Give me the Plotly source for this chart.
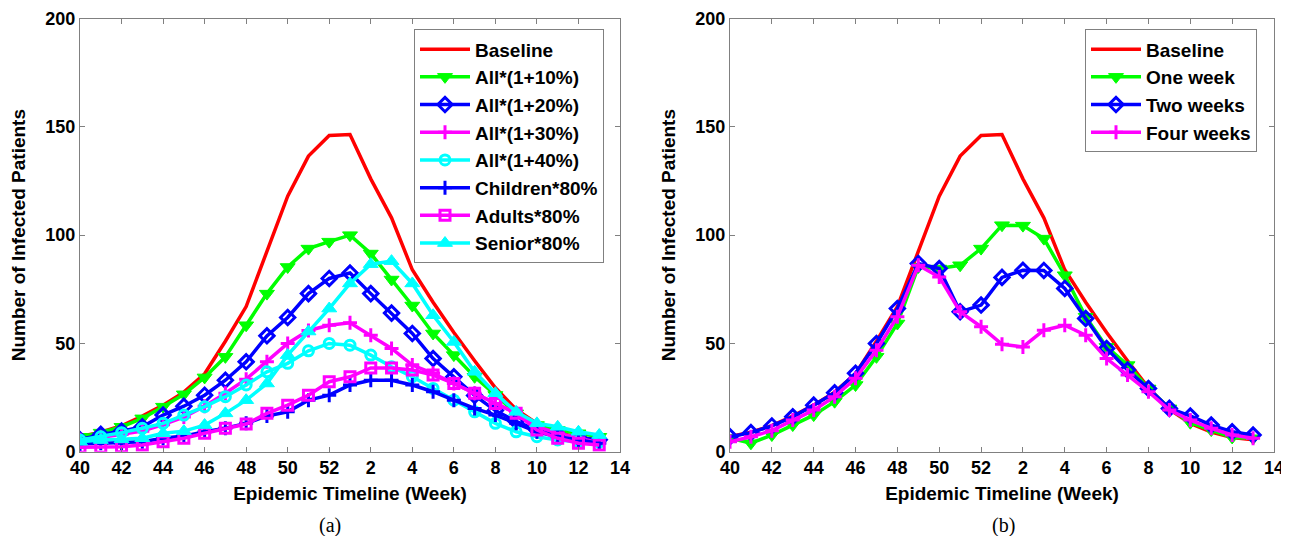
import plotly.graph_objects as go

# ---------------- data ----------------
weeks = [40, 41, 42, 43, 44, 45, 46, 47, 48, 49, 50, 51, 52,
         1, 2, 3, 4, 5, 6, 7, 8, 9, 10, 11, 12, 13]
axis_weeks = weeks + [14]

baseline = [7, 9, 12, 16.5, 21.5, 27.5, 36, 51, 67, 92, 118, 136.5, 146,
            146.5, 126, 108, 84, 69, 55, 42, 29.5, 19.5, 13, 9, 6.5, 5.5]
all_10 = [6.9, 8.8, 11.5, 15.4, 20.8, 26.5, 34.3, 43.8, 58.4, 73, 85.3, 93.8, 97,
          100, 91.5, 79.5, 67.5, 54.6, 44.6, 34.6, 26.2, 17.7, 12.3, 10, 8.5, 6.9]
all_20 = [5.5, 8, 9.5, 11.5, 16.9, 21, 26.1, 33, 41.5, 53.5, 62, 73, 80,
          82.5, 73, 64, 54.6, 43, 34.6, 26, 19, 14, 10, 8, 6.5, 5.5]
all_30 = [5.5, 6.5, 8, 9.5, 12.5, 16, 21, 27, 33.5, 41.5, 50, 56, 58.4,
          59.5, 53.8, 47.7, 40, 36.2, 31.5, 27, 22.3, 17.7, 11.5, 8.6, 6.3, 4]
all_40 = [5.4, 6.9, 8.8, 10.8, 13.1, 16.9, 20.8, 25.4, 30.8, 36.9, 40.8, 46.6, 50,
          49.2, 44.6, 39.2, 34.6, 29.2, 23.8, 18.4, 13.1, 9.2, 6.9, 5.4, 4.6, 4.4]
children_80 = [3.5, 3.9, 3.9, 4.6, 6.2, 7.2, 9.2, 10.8, 13.1, 16.5, 18.4, 23.8, 26.1,
               30.8, 33, 33, 30.8, 27.7, 23.8, 20, 16.9, 13.1, 9.2, 6.9, 5.4, 3.9]
adults_80 = [2, 2, 2.3, 3.1, 4.6, 6.2, 8.5, 10.8, 12.8, 17.7, 21.5, 26.1, 32.3,
             34.6, 38.7, 38.7, 37.7, 35.4, 31.5, 27, 22.3, 17.8, 10, 6.2, 3.9, 3.1]
senior_80 = [4.6, 5.4, 5.7, 6.2, 8.5, 9.5, 12.3, 17.7, 23.8, 31.5, 44.6, 55.5, 66.1,
             77.7, 86.6, 88, 77.7, 63, 50.7, 36.9, 27, 18.4, 13.1, 11.5, 9.2, 7.7]

one_week = [6.2, 3.9, 7.7, 12.3, 16.9, 23.1, 30.8, 43.8, 59.2, 85.3, 84.6, 86.1, 93.8,
            104.6, 104.4, 98.4, 81.5, 62.3, 48.4, 40, 29.2, 20, 13.4, 10, 6.6, 6.2]
two_weeks = [6.9, 8.8, 11.9, 16.1, 21.5, 27.2, 36.2, 50, 66.1, 86.9, 84.6, 64.6, 67.7,
             80.5, 83.8, 83.7, 75.4, 61.5, 47.7, 37.7, 29.2, 20, 16.5, 12.3, 9.2, 7.7]
four_weeks = [4.6, 6.9, 9.7, 14.6, 19.2, 25.4, 33.9, 46.9, 62.3, 86.1, 80.7, 64.6, 57.7,
              49.6, 48.4, 56.1, 58.4, 53.8, 43, 35.4, 27.7, 19.2, 14.6, 10.8, 7.7, 6.2]

y_ticks = [0, 50, 100, 150, 200]

RED, GREEN, BLUE, MAG, CYAN = "#FF0000", "#00FF00", "#0000FF", "#FF00FF", "#00FFFF"

x_pos = list(range(len(weeks)))
tick_pos = list(range(0, len(axis_weeks), 2))
tick_txt = [str(axis_weeks[i]) for i in tick_pos]

# the page body has an 8px margin; build the figure in page coordinates
OFF = 8
W, H = 1289 - OFF, 536 - OFF
FONT = "Liberation Sans, Arial, sans-serif"


def px_x(v):
    return (v - OFF) / W


def px_y(v):
    return 1 - (v - OFF) / H


fig = go.Figure()


def add(y, name, color, xa, ya, legend, symbol=None, msize=11, mlw=2.5):
    mode = "lines" if symbol is None else "lines+markers"
    marker = None
    if symbol is not None:
        filled = not symbol.endswith("open")
        marker = dict(symbol=symbol, size=msize, color=color,
                      line=dict(color=color, width=mlw if not filled else 1))
    fig.add_trace(go.Scatter(
        x=x_pos, y=y, name=name, mode=mode, xaxis=xa, yaxis=ya, legend=legend,
        line=dict(color=color, width=3.5), marker=marker))


# left panel
add(baseline, "Baseline", RED, "x", "y", "legend")
add(all_10, "All*(1+10%)", GREEN, "x", "y", "legend", "triangle-down", 13)
add(all_20, "All*(1+20%)", BLUE, "x", "y", "legend", "diamond-open", 11, 3)
add(all_30, "All*(1+30%)", MAG, "x", "y", "legend", "cross-thin-open", 10, 3)
add(all_40, "All*(1+40%)", CYAN, "x", "y", "legend", "circle-open", 10, 3)
add(children_80, "Children*80%", BLUE, "x", "y", "legend", "cross-thin-open", 10, 3)
add(adults_80, "Adults*80%", MAG, "x", "y", "legend", "square-open", 10, 3)
add(senior_80, "Senior*80%", CYAN, "x", "y", "legend", "triangle-up", 13)

# right panel
add(baseline, "Baseline", RED, "x2", "y2", "legend2")
add(one_week, "One week", GREEN, "x2", "y2", "legend2", "triangle-down", 13)
add(two_weeks, "Two weeks", BLUE, "x2", "y2", "legend2", "diamond-open", 11, 3)
add(four_weeks, "Four weeks", MAG, "x2", "y2", "legend2", "cross-thin-open", 10, 3)

ydom = [px_y(451.7), px_y(18.6)]
xdom1 = [px_x(80), px_x(620)]
xdom2 = [px_x(730), px_x(1274)]

tickfont = dict(family=FONT, size=18, color="black", weight="bold")
titlefont = dict(family=FONT, size=19, color="black", weight="bold")


def xaxis(dom, anchor):
    return dict(domain=dom, anchor=anchor, range=[0, len(axis_weeks) - 1],
                automargin=False, ticklabeloverflow="allow",
                tickmode="array", tickvals=tick_pos, ticktext=tick_txt,
                ticks="inside", ticklen=5, tickcolor="#808080",
                showline=True, linecolor="#808080", linewidth=1, mirror="ticks",
                showgrid=False, zeroline=False, tickfont=tickfont,
                title=dict(text="Epidemic Timeline (Week)", font=titlefont, standoff=9))


def yaxis(anchor):
    return dict(domain=ydom, anchor=anchor, range=[0, 200],
                automargin=False, ticklabeloverflow="allow",
                tickmode="array", tickvals=y_ticks,
                ticks="inside", ticklen=5, tickcolor="#808080",
                showline=True, linecolor="#808080", linewidth=1, mirror="ticks",
                showgrid=False, zeroline=False, tickfont=tickfont,
                title=dict(text="Number of Infected Patients", font=titlefont, standoff=14))


legfont = dict(family=FONT, size=19, color="black", weight="bold")
capfont = dict(family="Liberation Serif, Times New Roman, serif", size=20, color="black")

fig.update_layout(
    width=W, height=H, margin=dict(l=0, r=0, t=0, b=0, autoexpand=False),
    paper_bgcolor="white", plot_bgcolor="white",
    xaxis=xaxis(xdom1, "y"), yaxis=yaxis("x"),
    xaxis2=xaxis(xdom2, "y2"), yaxis2=yaxis("x2"),
    legend=dict(x=px_x(414), y=px_y(29.3), xanchor="left", yanchor="top",
                bgcolor="white", bordercolor="#808080", borderwidth=1,
                font=legfont, tracegroupgap=0, itemwidth=50),
    legend2=dict(x=px_x(1085), y=px_y(29.3), xanchor="left", yanchor="top",
                 bgcolor="white", bordercolor="#808080", borderwidth=1,
                 font=legfont, tracegroupgap=0, itemwidth=50),
    annotations=[
        dict(text="(a)", x=px_x(330), y=px_y(525), xref="paper", yref="paper",
             xanchor="center", yanchor="middle", showarrow=False, font=capfont),
        dict(text="(b)", x=px_x(1003), y=px_y(525), xref="paper", yref="paper",
             xanchor="center", yanchor="middle", showarrow=False, font=capfont),
    ],
)

fig.write_html("out.html")
